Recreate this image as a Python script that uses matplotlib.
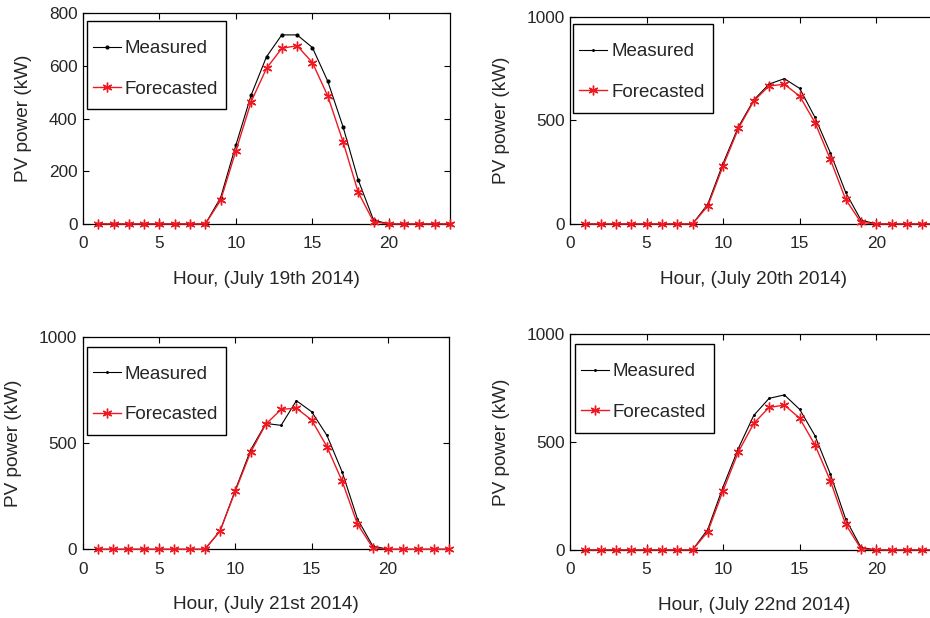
import matplotlib
matplotlib.use("Agg")
import matplotlib.pyplot as plt
from matplotlib.patches import Rectangle

plt.rcParams['font.family'] = ['Liberation Sans', 'DejaVu Sans']

hours = list(range(1, 25))

meas_19 = [0, 0, 0, 0, 0, 0, 0, 0, 100, 300, 490, 635, 718, 718, 670, 543, 370, 167, 15, 0, 0, 0, 0, 0]
fore_19 = [0, 0, 0, 0, 0, 0, 0, 0, 90, 278, 465, 591, 667, 677, 613, 487, 313, 120, 9, 0, 0, 0, 0, 0]

meas_20 = [0, 0, 0, 0, 0, 0, 0, 0, 96, 293, 469, 598, 675, 701, 654, 514, 344, 153, 19, 0, 0, 0, 0, 0]
fore_20 = [0, 0, 0, 0, 0, 0, 0, 0, 87, 281, 461, 593, 666, 674, 617, 489, 312, 119, 8, 0, 0, 0, 0, 0]

meas_21 = [0, 0, 0, 0, 0, 0, 0, 0, 86, 279, 467, 592, 583, 699, 647, 536, 364, 143, 16, 0, 0, 0, 0, 0]
fore_21 = [0, 0, 0, 0, 0, 0, 0, 0, 86, 274, 456, 589, 658, 664, 608, 483, 320, 119, 8, 0, 0, 0, 0, 0]

meas_22 = [0, 0, 0, 0, 0, 0, 0, 0, 96, 293, 471, 623, 702, 718, 651, 529, 352, 144, 12, 0, 0, 0, 0, 0]
fore_22 = [0, 0, 0, 0, 0, 0, 0, 0, 85, 275, 455, 586, 660, 671, 610, 486, 321, 119, 6, 0, 0, 0, 0, 0]

xlabels = ["Hour, (July 19th 2014)", "Hour, (July 20th 2014)",
           "Hour, (July 21st 2014)", "Hour, (July 22nd 2014)"]
ylabel = "PV power (kW)"
legend_labels = ["Measured", "Forecasted"]

W, H = 930, 618
fig = plt.figure(figsize=(W / 100, H / 100), dpi=100)

TXT = '#262626'
RED = '#f01820'

# axes boxes in pixels: left, top, right, bottom
boxes = [(83, 13.3, 450, 224), (570, 16.7, 937.5, 224),
         (82.7, 336.7, 449, 549.3), (570, 334, 937.5, 550)]
ylims = [800, 1000, 1000, 1000]
yticks = [[0, 200, 400, 600, 800], [0, 500, 1000], [0, 500, 1000], [0, 500, 1000]]
meas = [meas_19, meas_20, meas_21, meas_22]
fore = [fore_19, fore_20, fore_21, fore_22]
dot_ms = [4, 2.2, 2.2, 2.2]
# legend frames: dx, dy from axes top-left, w, h
frames = [(3.7, 7.7, 139, 88), (3.3, 7.3, 139.4, 89), (4, 10, 139, 88.3), (5, 10, 139.3, 89.3)]

for i in range(4):
    l, t, r, b = boxes[i]
    ax = fig.add_axes([l / W, 1 - b / H, (r - l) / W, (b - t) / H])
    ax.plot(hours, meas[i], color='black', lw=0.8, marker='.', ms=dot_ms[i],
            label=legend_labels[0], zorder=3, clip_on=False)
    ax.plot(hours, fore[i], color=RED, lw=1.0, marker=(6, 2, 0), ms=7,
            markeredgewidth=1.0, label=legend_labels[1], zorder=4, clip_on=False)
    ax.set_xlim(0, 24)
    ax.set_ylim(0, ylims[i])
    ax.set_xticks([0, 5, 10, 15, 20])
    ax.set_yticks(yticks[i])
    ax.tick_params(direction='in', top=True, right=True, length=4.5, width=0.8,
                   labelsize=12.4, colors='black', labelcolor=TXT)
    ax.tick_params(axis='x', pad=9)
    ax.tick_params(axis='y', pad=4)
    for s in ax.spines.values():
        s.set_linewidth(0.9)
        s.set_color('black')
    ax.set_xlabel(xlabels[i], fontsize=13.7, color=TXT, labelpad=14)
    ax.set_ylabel(ylabel, fontsize=13.7, color=TXT, labelpad=12)

    dx, dy, fw, fh = frames[i]
    fx0 = l + dx
    fy0 = t + dy
    rect = Rectangle((fx0 / W, 1 - (fy0 + fh) / H), fw / W, fh / H,
                     transform=fig.transFigure, facecolor='white',
                     edgecolor='black', lw=1.0, zorder=5)
    ax.add_artist(rect)
    rect.set_clip_on(False)
    leg = ax.legend(loc='upper left', bbox_to_anchor=((fx0 + 6) / W, 1 - (fy0 + 19) / H),
                    bbox_transform=fig.transFigure, frameon=False, borderpad=0,
                    handlelength=1.5, handletextpad=0.2, labelspacing=1.25,
                    fontsize=13.5, borderaxespad=0)
    for txt in leg.get_texts():
        txt.set_color(TXT)
    leg.set_zorder(6)

fig.savefig('out.png', dpi=100)
